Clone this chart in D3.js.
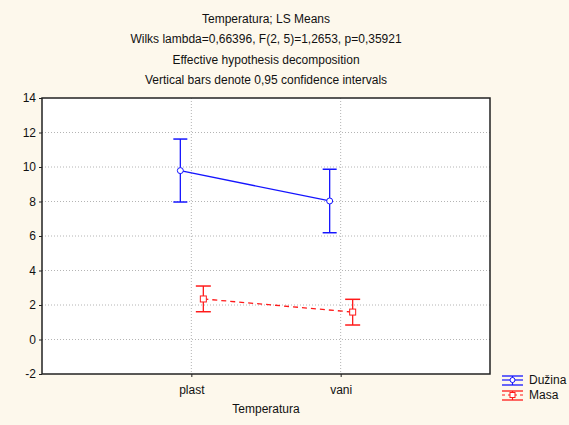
<!DOCTYPE html>
<html>
<head>
<meta charset="utf-8">
<script src="https://cdn.jsdelivr.net/npm/d3@7"></script>
<style>
body { margin: 0; background: #fdf8ec; }
svg { display: block; font-family: "Liberation Sans", Arial, sans-serif; }
</style>
</head>
<body>
<div class="container"></div>
<script>
var categories = ['plast', 'vani'];
var titleLines = ['Temperatura; LS Means',
  'Wilks lambda=0,66396, F(2, 5)=1,2653, p=0,35921',
  'Effective hypothesis decomposition',
  'Vertical bars denote 0,95 confidence intervals'];
var yTicks = [-2, 0, 2, 4, 6, 8, 10, 12, 14];

var duzinaMean = [9.79, 8.03];
var duzinaLow = [7.97, 6.19];
var duzinaHigh = [11.62, 9.87];

var masaMean = [2.35, 1.59];
var masaLow = [1.61, 0.84];
var masaHigh = [3.10, 2.33];

var w = 569, h = 425;
var plotLeft = 42, plotRight = 490, plotTop = 98, plotBottom = 374;

var svg = d3.select('.container').append('svg')
  .attr('width', w)
  .attr('height', h);

svg.append('rect')
  .attr('width', w).attr('height', h)
  .attr('fill', '#fdf8ec');

var xScale = d3.scaleLinear().domain([0, 3]).range([plotLeft, plotRight]);
var yScale = d3.scaleLinear().domain([-2, 14]).range([plotBottom, plotTop]);

// plot area
svg.append('rect')
  .attr('x', plotLeft).attr('y', plotTop)
  .attr('width', plotRight - plotLeft).attr('height', plotBottom - plotTop)
  .attr('fill', '#fff');

// grid
svg.selectAll('.hgrid')
  .data(yTicks.slice(1, -1))
  .enter().append('line')
  .attr('x1', plotLeft).attr('x2', plotRight)
  .attr('y1', d => yScale(d)).attr('y2', d => yScale(d))
  .attr('stroke', '#b4b4b4').attr('stroke-width', 1)
  .attr('stroke-dasharray', '1,2');

svg.selectAll('.vgrid')
  .data(categories)
  .enter().append('line')
  .attr('x1', (d, i) => xScale(i + 1)).attr('x2', (d, i) => xScale(i + 1))
  .attr('y1', plotTop).attr('y2', plotBottom)
  .attr('stroke', '#b4b4b4').attr('stroke-width', 1)
  .attr('stroke-dasharray', '1,2');

// frame
svg.append('rect')
  .attr('x', plotLeft).attr('y', plotTop)
  .attr('width', plotRight - plotLeft).attr('height', plotBottom - plotTop)
  .attr('fill', 'none')
  .attr('stroke', '#222').attr('stroke-width', 1.5);

// axes
var yAxis = d3.axisLeft(yScale).tickValues(yTicks).tickSize(3).tickPadding(3)
  .tickFormat(d => String(d));
var yg = svg.append('g').attr('transform', 'translate(' + plotLeft + ',0)').call(yAxis);

var xAxis = d3.axisBottom(xScale).tickValues([1, 2])
  .tickFormat((d) => categories[d - 1]).tickSize(3).tickPadding(8);
var xg = svg.append('g').attr('transform', 'translate(0,' + plotBottom + ')').call(xAxis);

[yg, xg].forEach(function(g) {
  g.select('.domain').remove();
  g.selectAll('line').attr('stroke', '#222');
  g.selectAll('text').attr('font-size', 12).attr('fill', '#111')
    .attr('font-family', '"Liberation Sans", Arial, sans-serif');
});

// titles
svg.selectAll('.title')
  .data(titleLines)
  .enter().append('text')
  .attr('x', 266)
  .attr('y', (d, i) => 23 + i * 20.3)
  .attr('text-anchor', 'middle')
  .attr('font-size', 12)
  .attr('fill', '#111')
  .text(d => d);

svg.append('text')
  .attr('x', 266).attr('y', 413)
  .attr('text-anchor', 'middle')
  .attr('font-size', 12)
  .attr('fill', '#111')
  .text('Temperatura');

function drawSeries(means, lows, highs, offset, color, dash, shape, cap) {
  var g = svg.append('g');
  var xs = means.map((d, i) => xScale(i + 1) + offset);
  var line = d3.line().x((d, i) => xs[i]).y(d => yScale(d));
  g.append('path')
    .datum(means)
    .attr('d', line)
    .attr('fill', 'none')
    .attr('stroke', color).attr('stroke-width', 1.3)
    .attr('stroke-dasharray', dash);
  means.forEach(function(m, i) {
    g.append('line')
      .attr('x1', xs[i]).attr('x2', xs[i])
      .attr('y1', yScale(lows[i])).attr('y2', yScale(highs[i]))
      .attr('stroke', color).attr('stroke-width', 1.3);
    [lows[i], highs[i]].forEach(function(v) {
      g.append('line')
        .attr('x1', xs[i] - cap).attr('x2', xs[i] + cap)
        .attr('y1', yScale(v)).attr('y2', yScale(v))
        .attr('stroke', color).attr('stroke-width', 1.5);
    });
    if (shape == 'circle') {
      g.append('circle')
        .attr('cx', xs[i]).attr('cy', yScale(m)).attr('r', 3)
        .attr('fill', '#fff').attr('stroke', color).attr('stroke-width', 1);
    } else {
      g.append('rect')
        .attr('x', xs[i] - 3).attr('y', yScale(m) - 3)
        .attr('width', 6).attr('height', 6)
        .attr('fill', '#fff').attr('stroke', color).attr('stroke-width', 1);
    }
  });
}

drawSeries(duzinaMean, duzinaLow, duzinaHigh, -11, '#1515ff', null, 'circle', 7);
drawSeries(masaMean, masaLow, masaHigh, 12, '#ff1a1a', '5,4', 'square', 7.5);

// legend
var legend = [
  {name: 'Dužina', color: '#1515ff', dash: null, shape: 'circle'},
  {name: 'Masa', color: '#ff1a1a', dash: '3,3', shape: 'square'}
];
legend.forEach(function(l, i) {
  var cy = 380 + i * 15, lx = 502, rx = 523, mx = 512.5;
  var g = svg.append('g');
  g.append('line').attr('x1', lx).attr('x2', rx).attr('y1', cy - 4).attr('y2', cy - 4)
    .attr('stroke', l.color).attr('stroke-width', 1.3);
  g.append('line').attr('x1', lx).attr('x2', rx).attr('y1', cy + 5).attr('y2', cy + 5)
    .attr('stroke', l.color).attr('stroke-width', 1.3);
  g.append('line').attr('x1', mx).attr('x2', mx).attr('y1', cy - 4).attr('y2', cy + 5)
    .attr('stroke', l.color).attr('stroke-width', 1.2);
  g.append('line').attr('x1', lx).attr('x2', rx).attr('y1', cy).attr('y2', cy)
    .attr('stroke', l.color).attr('stroke-width', 1.2).attr('stroke-dasharray', l.dash);
  if (l.shape == 'circle') {
    g.append('circle').attr('cx', mx).attr('cy', cy).attr('r', 2.5)
      .attr('fill', '#fff').attr('stroke', l.color);
  } else {
    g.append('rect').attr('x', mx - 2.5).attr('y', cy - 2.5).attr('width', 5).attr('height', 5)
      .attr('fill', '#fff').attr('stroke', l.color);
  }
  g.append('text').attr('x', 529).attr('y', cy + 4)
    .attr('font-size', 12).attr('fill', '#111').text(l.name);
});
</script>
</body>
</html>
